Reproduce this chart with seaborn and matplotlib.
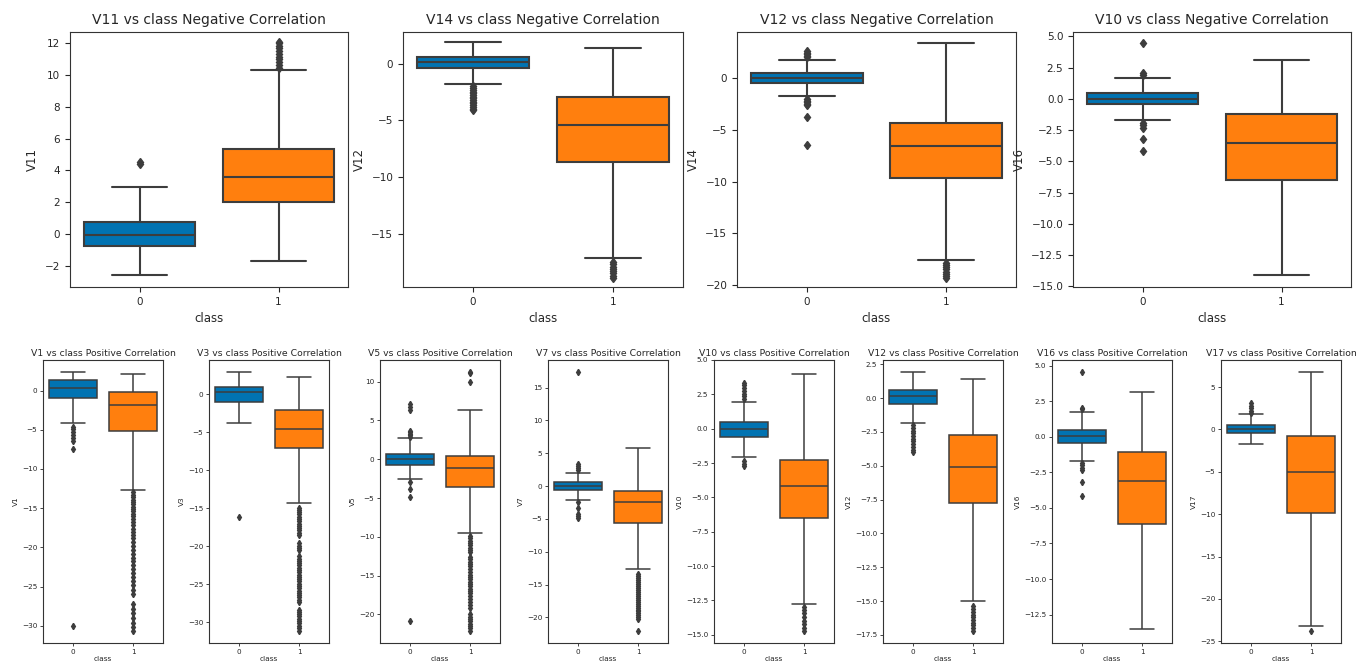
import matplotlib
matplotlib.use("Agg")
import numpy as np
import matplotlib.pyplot as plt
from matplotlib.ticker import MultipleLocator
import seaborn as sns
import pandas as pd

# class colours
BLUE = "#0173b2"
ORANGE = "#ff7f0e"
LINE = "#3d3d3d"

# ---- top row: negative correlation ----
top_titles = ["V11 vs class Negative Correlation", "V14 vs class Negative Correlation",
              "V12 vs class Negative Correlation", "V10 vs class Negative Correlation"]
top_ylabels = ["V11", "V12", "V14", "V16"]

# box summaries per class: [whisker low, q1, median, q3, whisker high]
v11_box = [[-2.58, -0.73, -0.04, 0.75, 2.95], [-1.72, 2.01, 3.6, 5.34, 10.3]]
v11_out = [[4.38, 4.5],
           [10.45, 10.6, 10.8, 11.0, 11.15, 11.3, 11.5, 11.7, 11.85, 12.0, 12.1]]

v14_box = [[-1.82, -0.41, 0.15, 0.62, 1.91], [-17.12, -8.68, -5.41, -2.94, 1.35]]
v14_out = [[-2.0, -2.15, -2.3, -2.45, -2.6, -2.75, -2.9, -3.05, -3.2, -3.35, -3.5, -3.65,
            -3.8, -3.95, -4.1],
           [-17.5, -17.7, -17.9, -18.1, -18.3, -18.5, -18.7, -18.9]]

v12_box = [[-1.72, -0.42, 0.06, 0.55, 1.79], [-17.55, -9.61, -6.59, -4.29, 3.47]]
v12_out = [[-6.43, -3.73, -2.6, -2.45, -2.3, -2.15, -2.0, 2.05, 2.2, 2.35, 2.5, 2.65],
           [-17.9, -18.1, -18.3, -18.5, -18.7, -18.9, -19.1, -19.3]]

v10_box = [[-1.65, -0.40, 0.03, 0.45, 1.70], [-14.1, -6.48, -3.49, -1.23, 3.09]]
v10_out = [[-4.2, -3.2, -2.3, -2.1, -1.9, 1.95, 2.05, 4.45], []]

top_ylims = [(-3.33, 12.7), (-19.7, 2.8), (-20.2, 4.5), (-15.05, 5.35)]
top_steps = [2, 5, 5, 2.5]

# ---- bottom row: positive correlation ----
bot_vars = ["V1", "V3", "V5", "V7", "V10", "V12", "V16", "V17"]

b_v1_box = [[-4.15, -0.93, 0.34, 1.40, 2.37], [-12.7, -5.2, -1.9, -0.17, 2.16]]
b_v1_out = [[-30.0, -7.5, -6.4, -6.1, -5.7, -5.3, -4.9, -4.6],
            [-13.0, -13.3, -13.6, -13.9, -14.2, -14.5, -14.8, -15.1, -15.4, -15.7, -16.0,
             -16.4, -16.8, -17.2, -17.6, -18.0, -18.4, -18.8, -19.3, -19.8, -20.3, -20.8,
             -21.3, -21.8, -22.3, -22.8, -23.3, -23.8, -24.3, -24.8, -25.4, -26.0, -27.2,
             -27.8, -28.4, -29.0, -29.6, -30.2, -30.7]]

b_v3_box = [[-3.75, -0.96, 0.26, 0.91, 2.87], [-14.32, -7.1, -4.61, -2.13, 2.31]]
b_v3_out = [[-16.1],
            [-14.9, -15.2, -15.5, -15.8, -16.1, -16.4, -16.7, -17.0, -17.3, -17.6, -17.9,
             -18.2, -18.5, -19.6, -19.9, -20.2, -20.5, -21.3, -21.6, -21.9, -22.2, -22.5,
             -22.8, -23.1, -23.4, -23.7, -24.0, -24.3, -24.6, -24.9, -25.2, -25.5, -25.8,
             -26.1, -26.4, -26.7, -27.0, -27.3, -28.3, -28.6, -28.9, -29.2, -29.5, -29.8,
             -30.1, -30.4, -30.7, -31.1]]

b_v5_box = [[-2.52, -0.68, 0.04, 0.73, 2.69], [-9.55, -3.58, -1.15, 0.43, 6.32]]
b_v5_out = [[-20.8, -4.9, -3.8, -2.9, 2.9, 3.1, 3.3, 3.5, 3.7, 6.4, 6.8, 7.1],
            [-9.9, -10.2, -10.5, -10.8, -11.1, -11.4, -11.7, -12.0, -12.6, -12.9, -13.2,
             -13.5, -13.8, -14.1, -14.6, -14.9, -15.2, -15.5, -15.8, -16.1, -16.4, -16.7,
             -17.0, -17.3, -17.6, -18.0, -18.4, -18.8, -19.2, -20.0, -20.3, -20.6, -20.9,
             -21.2, -21.5, -21.8, -22.2, 10.0, 11.1, 11.3]]

b_v7_box = [[-2.06, -0.6, 0.05, 0.6, 2.06], [-12.69, -5.7, -2.4, -0.76, 5.84]]
b_v7_out = [[-4.9, -4.6, -4.3, -3.3, -2.5, 2.5, 2.8, 3.1, 3.4, 17.3],
            [-13.4, -13.7, -14.0, -14.3, -14.6, -14.9, -15.2, -15.5, -15.8, -16.1, -16.4,
             -16.7, -17.0, -17.3, -17.6, -17.9, -18.2, -18.5, -18.8, -19.1, -19.4, -19.7,
             -20.0, -20.3, -22.0]]

b_v10_box = [[-2.05, -0.58, -0.05, 0.48, 1.97], [-12.75, -6.48, -4.16, -2.29, 3.98]]
b_v10_out = [[-2.75, -2.55, -2.35, 2.15, 2.35, 2.55, 2.75, 2.95, 3.15, 3.35],
             [-13.0, -13.2, -13.4, -13.7, -14.0, -14.2, -14.5, -14.7]]

b_v12_box = [[-1.86, -0.42, 0.15, 0.59, 1.91], [-15.03, -7.78, -5.07, -2.74, 1.4]]
b_v12_out = [[-2.0, -2.2, -2.4, -2.6, -2.8, -3.0, -3.2, -3.4, -3.6, -3.8, -4.0],
             [-15.4, -15.6, -15.8, -16.0, -16.2, -16.4, -16.6, -16.8, -17.0, -17.2]]

b_v16_box = [[-1.67, -0.42, 0.09, 0.49, 1.74], [-13.55, -6.16, -3.11, -1.05, 3.14]]
b_v16_out = [[-4.18, -3.2, -2.3, -2.2, -2.0, -1.85, 1.95, 2.05, 4.53], []]

b_v17_box = [[-1.72, -0.47, 0.0, 0.47, 1.84], [-23.15, -9.86, -4.97, -0.78, 6.77]]
b_v17_out = [[1.95, 2.2, 2.5, 2.8, 3.1], [-23.78]]

bot_ylims = [(-32.2, 3.9), (-32.7, 4.5), (-23.7, 12.8), (-23.9, 19.2),
             (-15.6, 5.0), (-18.1, 2.82), (-14.5, 5.4), (-25.2, 8.2)]
bot_steps = [5, 5, 5, 5, 2.5, 2.5, 2.5, 5]


def build_sample(box, outliers, k=60):
    # raw values whose quartiles / whiskers reproduce the box
    wlo, q1, med, q3, whi = box
    lows = sorted(v for v in outliers if v < q1) + [wlo]
    highs = [whi] + sorted(v for v in outliers if v > q3)
    n = 4 * k + 1
    a = int(1.5 * k) - len(lows)
    c = n - len(lows) - a - k - len(highs)
    return lows + [q1] * a + [med] * k + [q3] * c + highs


def make_frame(boxes, outs):
    s0 = build_sample(boxes[0], outs[0])
    s1 = build_sample(boxes[1], outs[1])
    return pd.DataFrame({"class": ["0"] * len(s0) + ["1"] * len(s1), "value": s0 + s1})


def draw(ax, df, title, ylabel, ylim, step, lw, ms, tsize, lsize, ksize, pad):
    sns.boxplot(data=df, x="class", y="value", hue="class", palette=[BLUE, ORANGE],
                legend=False, saturation=1, width=0.8, linecolor=LINE, linewidth=lw,
                flierprops=dict(marker="d", markersize=ms, markerfacecolor=LINE,
                                markeredgecolor=LINE), ax=ax)
    ax.set_ylim(*ylim)
    ax.yaxis.set_major_locator(MultipleLocator(step))
    ax.set_title(title, fontsize=tsize, pad=pad)
    ax.set_ylabel(ylabel, fontsize=lsize)
    ax.set_xlabel("class", fontsize=lsize)
    ax.tick_params(labelsize=ksize)


sns.set_style("ticks")
plt.rcParams["axes.edgecolor"] = "#333333"

fig = plt.figure(figsize=(13.65, 6.68), dpi=100)
W, H = 1365.0, 668.0

top_boxes = [v11_box, v14_box, v12_box, v10_box]
top_outs = [v11_out, v14_out, v12_out, v10_out]
top_x = [(70, 348), (403, 683), (737, 1016), (1073, 1351)]
for i in range(4):
    l, r = top_x[i]
    ax = fig.add_axes([l / W, 1 - 287 / H, (r - l) / W, 255 / H])
    draw(ax, make_frame(top_boxes[i], top_outs[i]), top_titles[i], top_ylabels[i],
         top_ylims[i], top_steps[i], 1.5, 4.5, 10, 8.5, 7.5, 6)

bot_boxes = [b_v1_box, b_v3_box, b_v5_box, b_v7_box, b_v10_box, b_v12_box, b_v16_box, b_v17_box]
bot_outs = [b_v1_out, b_v3_out, b_v5_out, b_v7_out, b_v10_out, b_v12_out, b_v16_out, b_v17_out]
bot_left = [43, 209, 380, 548, 714, 883, 1052, 1221]
for i in range(8):
    ax = fig.add_axes([bot_left[i] / W, 1 - 643 / H, 120 / W, 283 / H])
    draw(ax, make_frame(bot_boxes[i], bot_outs[i]),
         bot_vars[i] + " vs class Positive Correlation", bot_vars[i],
         bot_ylims[i], bot_steps[i], 1.1, 3.2, 6.7, 5.3, 5.2, 3)
    ax.tick_params(length=2, width=0.6, pad=2)
    ax.xaxis.labelpad = 1
    ax.yaxis.labelpad = 2
    for sp in ax.spines.values():
        sp.set_linewidth(0.8)

fig.savefig("out.png", dpi=100)
